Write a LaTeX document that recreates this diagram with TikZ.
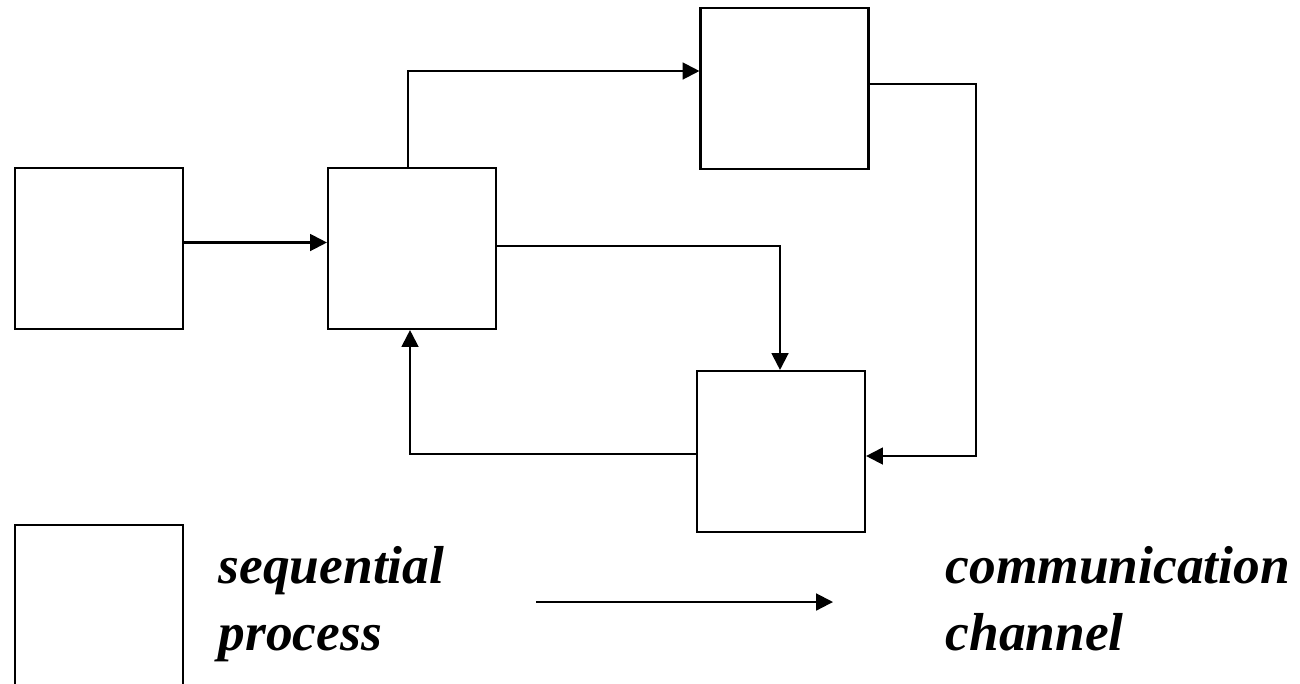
\documentclass[tikz,border=0pt]{standalone}
\usepackage{fontspec}
\setmainfont{Liberation Serif}
\usepackage{tikz}
\usetikzlibrary{arrows.meta}

\begin{document}
\begin{tikzpicture}[
        proc/.style={draw, line width=0.6pt, minimum width=1.68cm, minimum height=1.61cm, inner sep=0pt},
        chan/.style={line width=0.6pt, -{Triangle[length=4.8pt, width=4.8pt]}},
        legend/.style={font=\fontsize{15.2}{19}\selectfont\bfseries\itshape, align=left, inner sep=0pt}
    ]
            \useasboundingbox (0, 0) rectangle (13, 6.83);

            \node[proc] (A) at (0.99, 4.345) {};
            \node[proc] (B) at (4.12, 4.345) {};
            \node[proc] (C) at (7.845, 5.945) {};
            \node[proc] (D) at (7.81, 2.315) {};

            \draw[chan] ([yshift=.6mm]A.east) -- ([yshift=.6mm]B.west);
            \draw[chan] ([xshift=-.4mm]B.north) |- ([yshift=1.75mm]C.west);
            \draw[chan] ([yshift=.45mm]C.east) -- ++(1.065, 0) |- ([yshift=-.45mm]D.east);
            \draw[chan] ([yshift=.25mm]B.east) -| ([xshift=-.1mm]D.north);
            \draw[chan] ([yshift=-.25mm]D.west) -| ([xshift=-.2mm]B.south);

            % legend
            \node[proc] (P) at (0.99, 0.775) {};
            \node[legend, anchor=base west] (Ptext) at (2.18, 0.33) {sequential\\process};

            \coordinate (chanL) at (5.36, 0.81);
            \coordinate (chanR) at (8.33, 0.81);
            \draw[chan] (chanL) -- (chanR);
            \node[legend, anchor=base west] (Ctext) at (9.45, 0.33) {communication\\channel};
        \end{tikzpicture}
\end{document}
